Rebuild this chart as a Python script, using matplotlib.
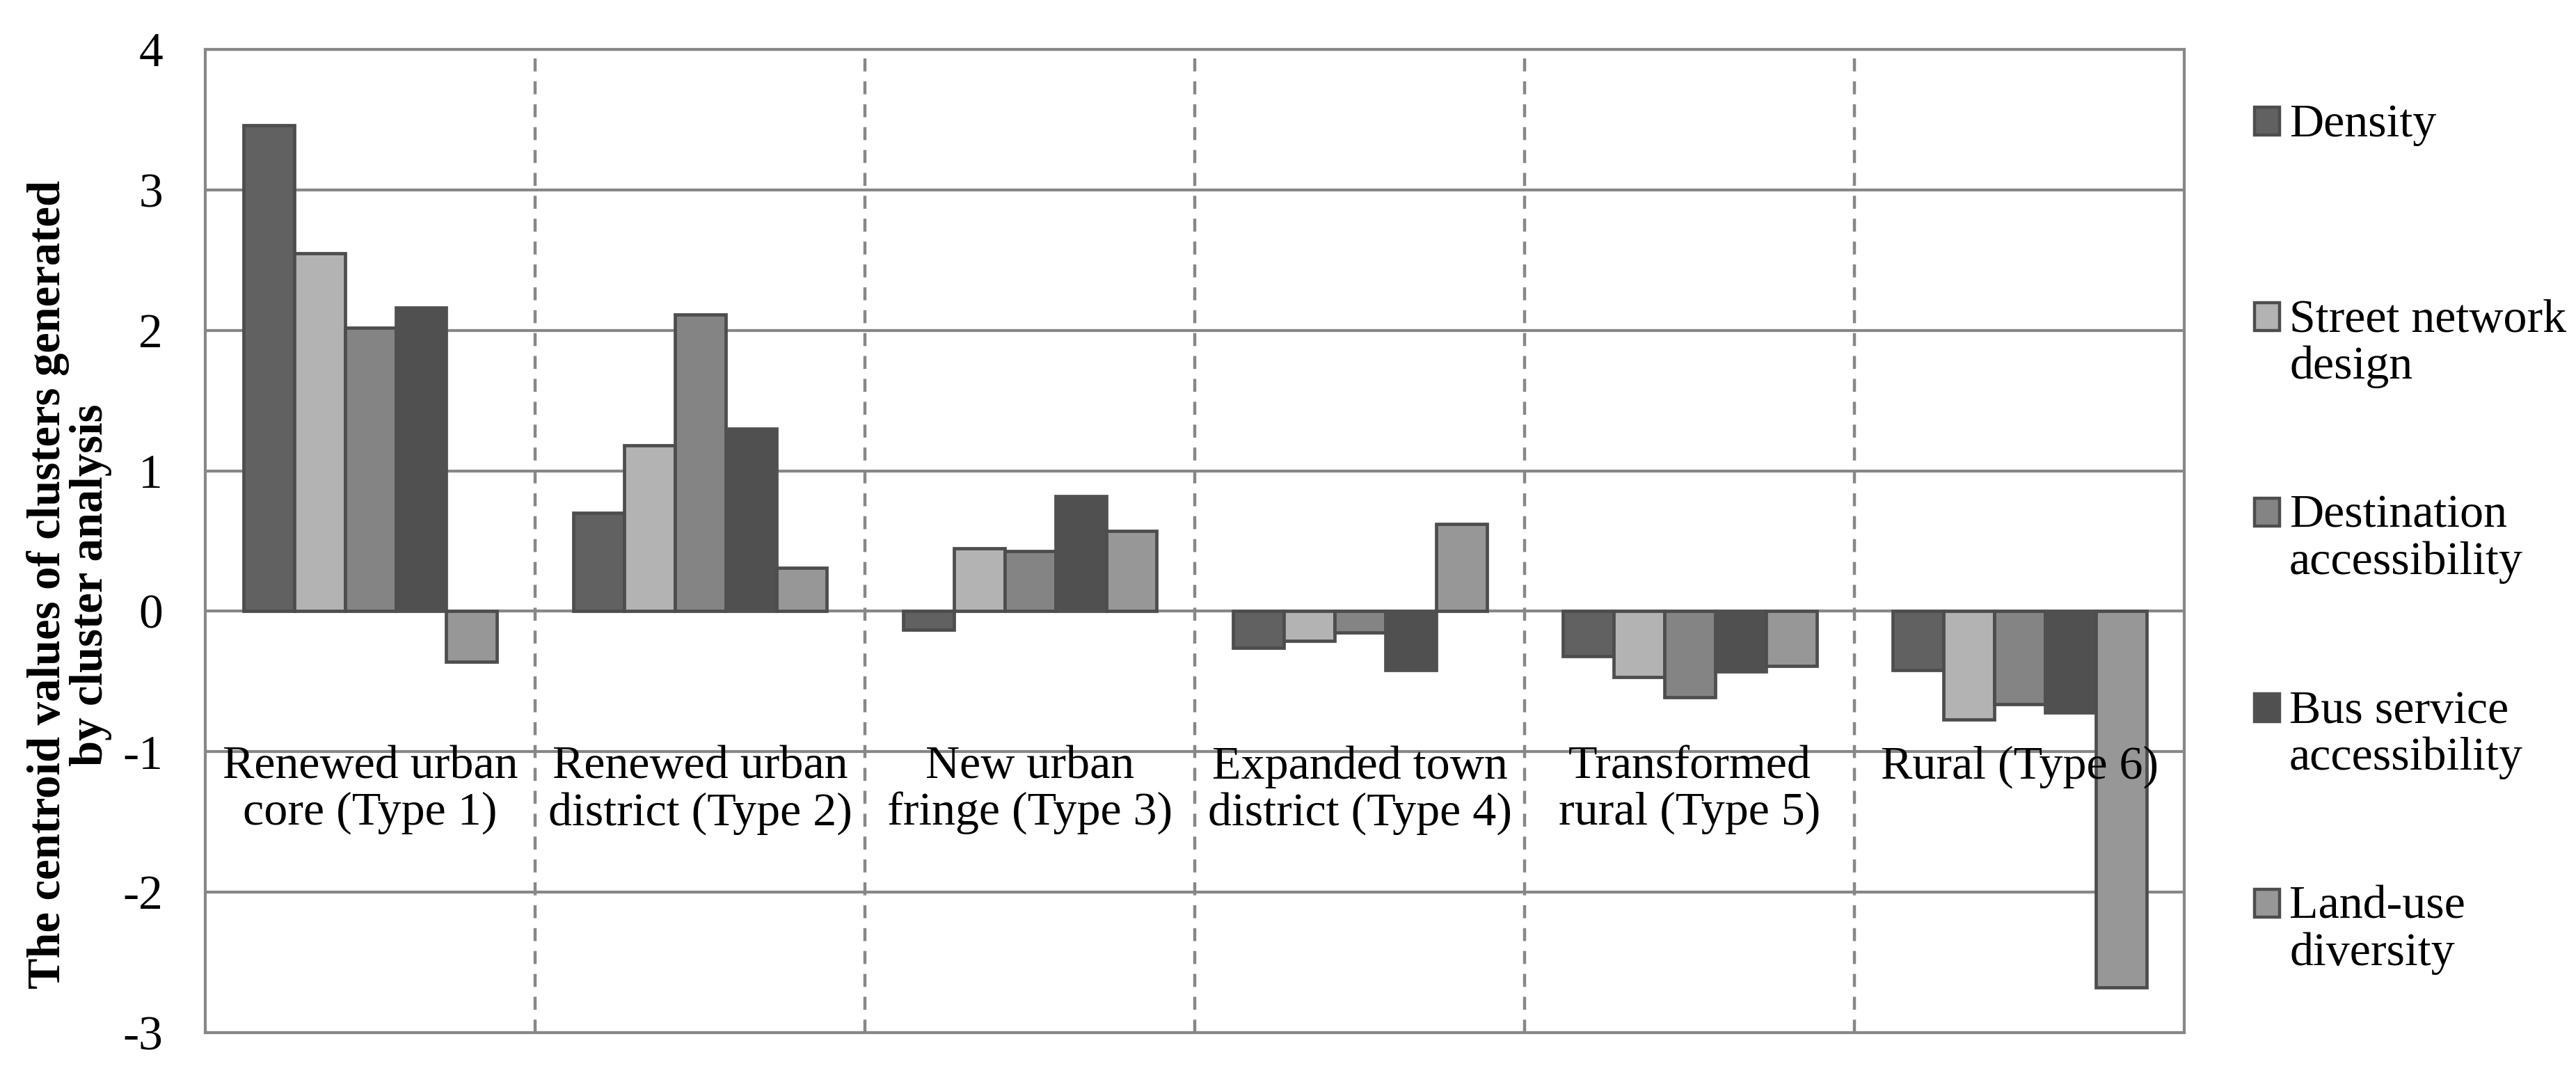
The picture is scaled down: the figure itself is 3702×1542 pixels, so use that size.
import numpy as np
import matplotlib.pyplot as plt
from matplotlib.patches import Rectangle

plt.rcParams['font.family'] = ['Liberation Serif', 'DejaVu Serif']

# Cluster types (x categories)
categories = ['Renewed urban\ncore (Type 1)', 'Renewed urban\ndistrict (Type 2)',
              'New urban\nfringe (Type 3)', 'Expanded town\ndistrict (Type 4)',
              'Transformed\nrural (Type 5)', 'Rural (Type 6)']

# Series (legend entries)
series_names = ['Density', 'Street network\ndesign', 'Destination\naccessibility',
                'Bus service\naccessibility', 'Land-use\ndiversity']

# Centroid values, one list per series
density = [3.46, 0.70, -0.13, -0.26, -0.32, -0.42]
street_network = [2.55, 1.18, 0.45, -0.21, -0.47, -0.77]
destination = [2.02, 2.11, 0.43, -0.15, -0.61, -0.66]
bus_service = [2.16, 1.30, 0.82, -0.42, -0.43, -0.72]
land_use = [-0.36, 0.31, 0.57, 0.62, -0.39, -2.68]

yticks = [-3, -2, -1, 0, 1, 2, 3, 4]

series_values = [density, street_network, destination, bus_service, land_use]
fill_colors = ['#616161', '#b3b3b3', '#848484', '#505050', '#979797']
edge_colors = ['#4d4d4d', '#4d4d4d', '#4d4d4d', '#505050', '#4d4d4d']
grid_color = '#878787'

fig = plt.figure(figsize=(18.51, 7.71), dpi=200)
ax = fig.add_axes([0.0797, 0.0376, 0.848 - 0.0797, 0.954 - 0.0376])

n_series = len(series_values)
bar_w = 1.0 / (n_series + 1.5)
x = np.arange(len(categories))

for i, vals in enumerate(series_values):
    offset = (i - (n_series - 1) / 2) * bar_w
    ax.bar(x + offset, vals, width=bar_w, color=fill_colors[i],
           edgecolor=edge_colors[i], linewidth=1.7, zorder=3)

# category separators
for b in np.arange(0.5, len(categories) - 0.5, 1.0):
    ax.axvline(b, color=grid_color, linewidth=1.6, dashes=(4.2, 3.2), zorder=1)

ax.set_xlim(-0.5, len(categories) - 0.5)
ax.set_ylim(-3, 4)
ax.set_yticks(yticks)
ax.set_yticklabels([str(t) for t in yticks], fontsize=25)
ax.tick_params(axis='y', length=0, pad=22)
ax.set_xticks([])

ax.set_axisbelow(True)
ax.yaxis.grid(True, color=grid_color, linewidth=1.5)
for sp in ax.spines.values():
    sp.set_color(grid_color)
    sp.set_linewidth(1.5)

# category labels sit inside the plot, just under the -1 gridline
for xi, lab in zip(x, categories):
    ax.text(xi, -0.955, lab, ha='center', va='top', fontsize=24.5,
            linespacing=1.12, zorder=4)

fig.text(0.027, 0.455, 'The centroid values of clusters generated\nby cluster analysis',
         rotation=90, ha='center', va='center', fontsize=24, fontweight='bold',
         linespacing=1.0)

# legend drawn by hand so markers line up with the first text line
W, H = 3702.0, 1542.0
for i, (name, fc, ec) in enumerate(zip(series_names, fill_colors, edge_colors)):
    top = 153 + i * 281
    fig.add_artist(Rectangle((3240 / W, 1 - (top + 41) / H), 36 / W, 40 / H,
                             transform=fig.transFigure, facecolor=fc,
                             edgecolor=ec, linewidth=1.6))
    fig.text(3290 / W, 1 - (top - 4) / H, name, ha='left', va='top',
             fontsize=24.5, linespacing=1.12)

fig.savefig('out.png', dpi=200)
